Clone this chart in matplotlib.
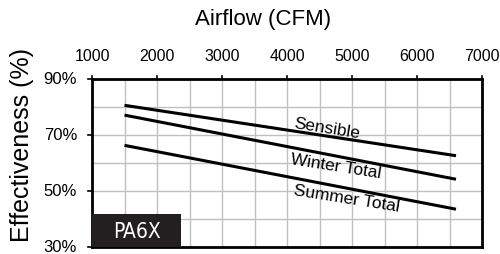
import matplotlib
matplotlib.use("Agg")
import matplotlib.pyplot as plt
from matplotlib.patches import Rectangle

# data
airflow = [1500, 6600]
sensible = [80.6, 62.6]
winter_total = [77.1, 54.2]
summer_total = [66.3, 43.5]
x_ticks = [1000, 2000, 3000, 4000, 5000, 6000, 7000]
y_ticks = [30, 50, 70, 90]
model = "PA6X"

plt.rcParams['font.family'] = ['Liberation Sans', 'DejaVu Sans']

fig = plt.figure(figsize=(5, 2.54), dpi=100)
ax = fig.add_axes([92/500, 1-247/254, (482-92)/500, (247-79)/254])

for y in (sensible, winter_total, summer_total):
    ax.plot(airflow, y, color='black', lw=2.2, solid_capstyle='butt', zorder=3)

ax.set_xlim(1000, 7000)
ax.set_ylim(30, 90)
ax.set_xticks(range(1000, 7001, 500))
ax.set_yticks(range(30, 91, 10))
ax.grid(True, color='#c0c0c0', lw=1, zorder=0)
ax.tick_params(which='both', length=0, labelleft=False, labelbottom=False)

for x in x_ticks:
    ax.text(x, 98.2, str(x), ha='center', va='center', fontsize=11.5)
    ax.plot([x, x], [90, 91.2], color='black', lw=1.2, clip_on=False)
for y in y_ticks:
    ax.text(770, y, f"{y}%", ha='right', va='center', fontsize=12)
    ax.plot([940, 1000], [y, y], color='black', lw=1.2, clip_on=False)

for s in ax.spines.values():
    s.set_linewidth(2)
    s.set_color('black')

lbl = dict(rotation=-9, fontsize=12.5, ha='left', va='baseline',
           rotation_mode='anchor')
ax.text(4090, 72.5, "Sensible", **lbl)
ax.text(4046, 59.6, "Winter Total", **lbl)
ax.text(4092, 48.6, "Summer Total", **lbl)

ax.add_patch(Rectangle((1000, 30), 1370, 11.8, facecolor='#231f20',
                       edgecolor='none', zorder=4))
ax.text(1685, 35.5, model, color='white', ha='center', va='center', fontsize=15,
        family='DejaVu Sans', fontstretch='condensed', zorder=5)

fig.text(263/500, 1-20/254, "Airflow (CFM)", ha='center', va='center', fontsize=16)
fig.text(22/500, 1-145/254, "Effectiveness (%)", ha='center', va='center',
         rotation=90, fontsize=18)

fig.savefig("out.png", dpi=100)
